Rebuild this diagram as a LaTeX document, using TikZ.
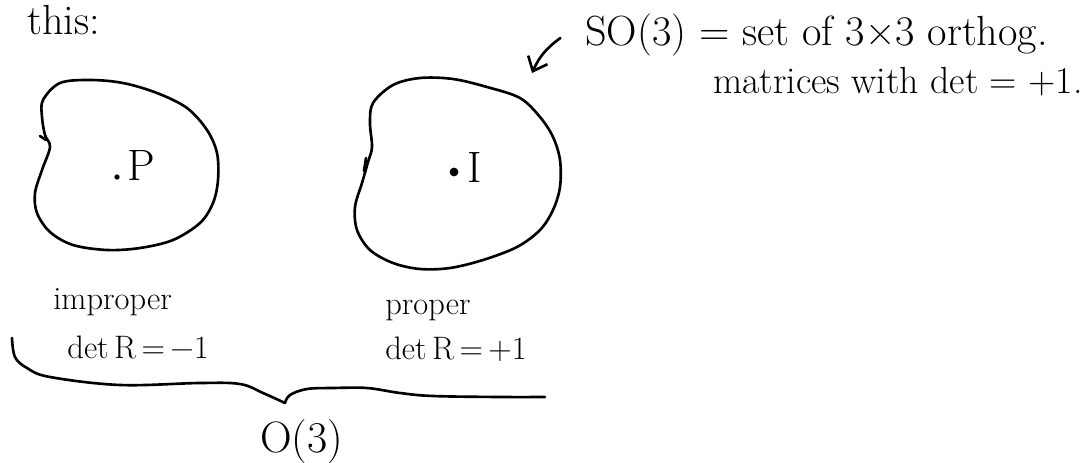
\documentclass[tikz,border=0pt]{standalone}
\usepackage{fontspec}
\usepackage{tikz}
\usetikzlibrary{arrows.meta,positioning}

\begin{document}
\begin{tikzpicture}[
    x=0.02cm, y=0.02cm,
    hand/.style={line width=1.5pt, line cap=round, line join=round},
    lab/.style={inner sep=0pt, anchor=base west, font=\fontsize{18.5}{22}\selectfont},
    biglab/.style={lab, font=\fontsize{25}{30}\selectfont},
    note/.style={lab, font=\fontsize{24}{28}\selectfont},
    elem/.style={circle, fill=black, inner sep=0pt, minimum size=#1},
    arr/.style={hand, -{Straight Barb[length=7pt, width=12pt]}}
  ]
    \useasboundingbox (0,0) rectangle (1085,-463);
    \node[biglab, font=\fontsize{24}{28}\selectfont] (intro) at (27,-34) {this:};
    \draw[hand] plot[smooth cycle, tension=0.55] coordinates {
        (43,-100) (60,-83) (90,-80) (123,-83) (157,-93) (187,-108) (207,-130)
        (217,-153) (218,-180) (213,-203) (200,-223) (173,-240) (140,-248)
        (107,-250) (73,-245) (50,-232) (37,-213) (35,-193) (42,-170) (50,-147)
        (45,-135) (42,-117)};
    \draw[hand] (40,-136) -- (46,-140);
    \draw[hand] plot[smooth cycle, tension=0.55] coordinates {
        (373,-103) (393,-85) (420,-78) (453,-79) (487,-87) (520,-98) (540,-117)
        (553,-137) (560,-160) (560,-187) (553,-210) (540,-230) (517,-247)
        (483,-260) (450,-268) (420,-269) (393,-263) (370,-250) (357,-230)
        (355,-207) (362,-183) (368,-162) (372,-147) (370,-123)};
    \draw[hand] (366,-158) -- (364,-171);
    \node[elem=3pt] (dotP) at (117,-177) {};
    \node[biglab] (P) at (127,-180) {P};
    \node[elem=5pt] (dotI) at (454,-172) {};
    \node[biglab] (I) at (467,-182) {I};
    \node[note] (so3) at (585,-45) {SO(3) = set of 3×3 orthog.};
    \node[lab, font=\fontsize{21.5}{26}\selectfont] (so3def) at (713,-93) {matrices with det = +1.};
    \coordinate (so3tip) at (532,-73);
    \draw[arr] ([xshift=-14pt, yshift=-2pt]so3.west) to[bend right=15] (so3tip);
    \node[lab] (improper) at (53,-309) {improper};
    \node[lab, below=28pt of improper.base west, anchor=base west, xshift=8pt] (detm) {det\,R\,=\,−1};
    \node[lab] (proper) at (385,-314) {proper};
    \node[lab, below=26pt of proper.base west, anchor=base west] (detp) {det\,R\,=\,+1};
    \coordinate (bracetip) at (285,-403);
    \draw[hand] plot[smooth, tension=0.6] coordinates {(12,-338) (15,-357) (27,-368)
        (50,-377) (120,-385) (200,-383) (240,-384) (263,-393) (bracetip)}
      -- plot[smooth, tension=0.6] coordinates {(bracetip) (290,-395) (307,-389)
        (333,-388) (367,-388) (400,-393) (433,-396) (500,-397) (545,-397)};
    \node[biglab] (o3) at (260,-452) {O(3)};
\end{tikzpicture}
\end{document}
